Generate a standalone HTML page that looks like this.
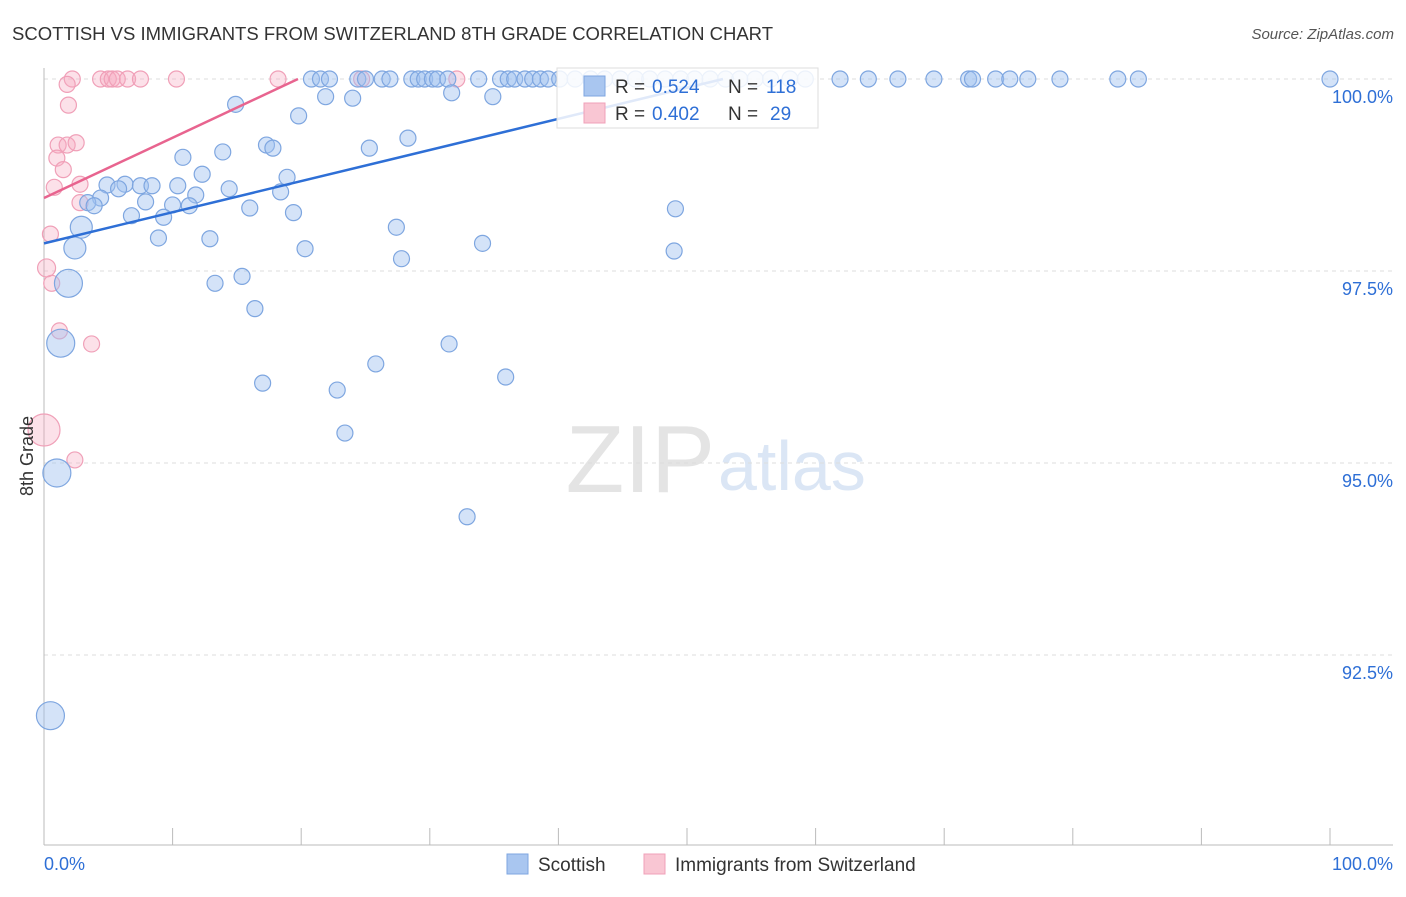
<!DOCTYPE html>
<html><head><meta charset="utf-8"><style>
body{margin:0;background:#fff;font-family:"Liberation Sans",sans-serif;}
svg text{font-family:"Liberation Sans",sans-serif;}
</style></head><body>
<svg id="chart" width="1406" height="892" viewBox="0 0 1406 892" xmlns="http://www.w3.org/2000/svg">
<text x="12" y="40" font-size="18" fill="#333" textLength="761" lengthAdjust="spacingAndGlyphs">SCOTTISH VS IMMIGRANTS FROM SWITZERLAND 8TH GRADE CORRELATION CHART</text>
<text x="1394" y="39" font-size="15" fill="#555" text-anchor="end" font-style="italic">Source: ZipAtlas.com</text>
<text x="715" y="492" font-size="96" fill="#e4e4e4" text-anchor="end" font-family="Liberation Serif">ZIP</text>
<text x="718" y="490" font-size="70" fill="#dbe6f5">atlas</text>
<g id="grid"></g>
<g id="axes"></g>
<g id="marks"></g>
<g id="legend">
<rect x="557" y="68" width="261" height="60" fill="#fff" fill-opacity="0.85" stroke="#ddd"/>
<rect x="584" y="76" width="21" height="20" fill="#a9c6f0" stroke="#7ea6e0"/>
<rect x="584" y="103" width="21" height="20" fill="#f9c6d3" stroke="#f0a0b8"/>
<text x="615" y="93" font-size="19" fill="#333">R =</text>
<text x="652" y="93" font-size="19" fill="#2e6fd6">0.524</text>
<text x="728" y="93" font-size="19" fill="#333">N =</text>
<text x="766" y="93" font-size="19" fill="#2e6fd6">118</text>
<text x="615" y="120" font-size="19" fill="#333">R =</text>
<text x="652" y="120" font-size="19" fill="#2e6fd6">0.402</text>
<text x="728" y="120" font-size="19" fill="#333">N =</text>
<text x="770" y="120" font-size="19" fill="#2e6fd6">29</text>
</g>
<g>
<rect x="507" y="854" width="21" height="20" fill="#a9c6f0" stroke="#7ea6e0"/>
<text x="538" y="871" font-size="19" fill="#333">Scottish</text>
<rect x="644" y="854" width="21" height="20" fill="#f9c6d3" stroke="#f0a0b8"/>
<text x="675" y="871" font-size="19" fill="#333">Immigrants from Switzerland</text>
</g>
<text x="33" y="456" font-size="18" fill="#333" transform="rotate(-90 33 456)" text-anchor="middle">8th Grade</text>
</svg>
<script>
const yTicks=[100,97.5,95,92.5];
const yTickLabels=["100.0%","97.5%","95.0%","92.5%"];
const xTickLabels=["0.0%","100.0%"];
const blueTopX=[20.8,21.5,22.2,24.4,25.0,26.3,26.9,28.6,29.1,29.6,30.2,30.6,31.4,33.8,35.5,36.1,36.6,37.4,38.0,38.6,39.2,40.1,41.3,42.5,43.6,44.8,46.0,47.1,48.3,49.5,50.6,51.8,53.0,54.1,55.3,56.5,58.0,59.2,61.9,64.1,66.4,69.2,71.9,72.2,74.0,75.1,76.5,79.0,83.5,85.1,100];
const blueX=[21.9,24.0,31.7,34.9,14.9,19.8,28.3,17.3,17.8,25.3,10.8,13.9,12.3,18.9,4.9,6.3,7.5,8.4,5.8,10.4,14.4,18.4,4.4,3.4,3.9,11.8,7.9,10.0,11.3,16.0,19.4,6.8,9.3,2.9,8.9,12.9,20.3,27.4,34.1,49.1,49.0,2.4,27.8,15.4,13.3,1.9,16.4,1.3,31.5,25.8,35.9,17.0,22.8,23.4,1.0,32.9,0.5];
const blueY=[99.77,99.75,99.82,99.77,99.67,99.52,99.23,99.14,99.10,99.10,98.98,99.05,98.76,98.72,98.62,98.63,98.61,98.61,98.57,98.61,98.57,98.53,98.45,98.39,98.35,98.49,98.40,98.36,98.35,98.32,98.26,98.22,98.20,98.07,97.93,97.92,97.79,98.07,97.86,98.31,97.76,97.80,97.66,97.43,97.34,97.34,97.01,96.56,96.55,96.29,96.12,96.04,95.95,95.39,94.87,94.30,91.71];
const blueR=[8,8,8,8,8,8,8,8,8,8,8,8,8,8,8,8,8,8,8,8,8,8,8,8,8,8,8,8,8,8,8,8,8,11,8,8,8,8,8,8,8,11,8,8,8,14,8,14,8,8,8,8,8,8,14,8,14];
const pinkTopX=[2.2,4.4,5.0,5.3,5.7,6.5,7.5,10.3,18.2,24.7,32.1];
const pinkX=[1.8,1.9,1.1,1.8,2.5,1.0,1.5,0.8,2.8,2.8,0.5,0.2,0.6,1.2,3.7,0,2.4];
const pinkY=[99.93,99.66,99.14,99.14,99.17,98.97,98.82,98.59,98.63,98.39,97.98,97.54,97.34,96.72,96.55,95.43,95.04];
const pinkR=[8,8,8,8,8,8,8,8,8,8,8,9,8,8,8,16,8];
const blueTrend=[[0,97.86],[52.8,100]];
const pinkTrend=[[0,98.45],[19.75,100]];
const NS="http://www.w3.org/2000/svg";
const sx=v=>44+v*12.86;
const sy=v=>79+(100-v)*76.8;
function mk(tag,attrs,parent){const e=document.createElementNS(NS,tag);for(const k in attrs)e.setAttribute(k,attrs[k]);parent.appendChild(e);return e;}
const grid=document.getElementById('grid'),axes=document.getElementById('axes'),marks=document.getElementById('marks');
yTicks.forEach((t,i)=>{
 const l=mk('line',{x1:44,x2:1393,y1:sy(t),y2:sy(t),stroke:'#ddd','stroke-dasharray':'4 4'},grid);
 
 
 const tx=mk('text',{x:1393,y:sy(t)+24,'font-size':18,fill:'#2e6fd6','text-anchor':'end'},axes);
 tx.textContent=yTickLabels[i];
 
 
});
const ax=mk('line',{x1:44,x2:44,y1:68,y2:845,stroke:'#bbb'},axes);


const bx=mk('line',{x1:44,x2:1393,y1:845,y2:845,stroke:'#bbb'},axes);


for(let i=0;i<=10;i++){
 const t=mk('line',{x1:sx(i*10),x2:sx(i*10),y1:828,y2:845,stroke:'#bbb'},axes);
 
 
}
[[0,'start',44],[100,'end',1393]].forEach((d,i)=>{
 const t=mk('text',{x:d[2],y:870,'font-size':18,fill:'#2e6fd6','text-anchor':d[1]},axes);
 t.textContent=xTickLabels[i];
 
 
});
function dot(x,y,r,c,name){
 const e=mk('circle',{cx:sx(x),cy:sy(y),r:r,fill:c[0],stroke:c[1],'stroke-width':1.2},marks);
 
 
}
const BC=['rgba(160,192,240,0.45)','#7ea6e0'],PC=['rgba(245,170,192,0.35)','#f0a0b8'];
pinkTopX.forEach(x=>dot(x,100,8,PC,'swiss-point'));
pinkX.forEach((x,i)=>dot(x,pinkY[i],pinkR[i],PC,'swiss-point'));
blueTopX.forEach(x=>dot(x,100,8,BC,'scottish-point'));
blueX.forEach((x,i)=>dot(x,blueY[i],blueR[i],BC,'scottish-point'));
const bl=mk('line',{x1:sx(blueTrend[0][0]),y1:sy(blueTrend[0][1]),x2:sx(blueTrend[1][0]),y2:sy(blueTrend[1][1]),stroke:'#2e6fd6','stroke-width':2.5},marks);


const pl=mk('line',{x1:sx(pinkTrend[0][0]),y1:sy(pinkTrend[0][1]),x2:sx(pinkTrend[1][0]),y2:sy(pinkTrend[1][1]),stroke:'#e8648f','stroke-width':2.5},marks);


document.getElementById('chart').appendChild(document.getElementById('legend'));
</script>
</body></html>
